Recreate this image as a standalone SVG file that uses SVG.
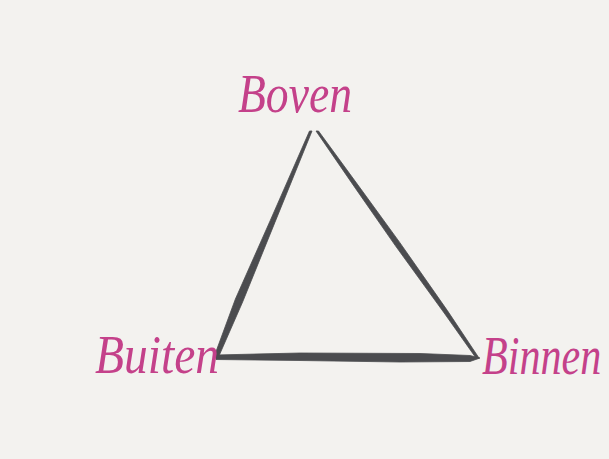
<svg xmlns="http://www.w3.org/2000/svg" width="609" height="459" viewBox="0 0 609 459">
<style>
.lbl{font-family:"Liberation Serif","DejaVu Serif",serif;font-style:italic;font-size:54px;fill:#c4418a}
.edge{fill:#4b4c4f;stroke:#4b4c4f;stroke-width:0.8;stroke-linejoin:round}
</style>
<rect width="609" height="459" fill="#f3f2ef"/>
<g id="connectors">
<path class="edge" d="M309.5,131 L312,131 L274.9,222.4 L242.6,302 L218.5,357 L214,357 L235.4,299 L270.3,220.4 Z"/>
<path class="edge" d="M316,131 L318.5,131 L358.9,186.3 L399.7,242.4 L447.4,310.6 L479,358 L476,358 L444.2,313 L395.3,245.6 L355.7,188.7 Z"/>
<path class="edge" d="M216,355 L300,353 L420,353.5 L470,355.5 L480,358 L470,361.5 L400,362 L300,360.5 L216,359.5 Z"/>
</g>
<g id="boven"><text class="lbl" x="238" y="112" textLength="114" lengthAdjust="spacingAndGlyphs">Boven</text></g>
<g id="buiten"><text class="lbl" x="95" y="373" textLength="124" lengthAdjust="spacingAndGlyphs">Buiten</text></g>
<g id="binnen" transform="translate(482,374) scale(0.78,1)"><text class="lbl" x="0" y="0" font-size="52">Binnen</text></g>
</svg>
